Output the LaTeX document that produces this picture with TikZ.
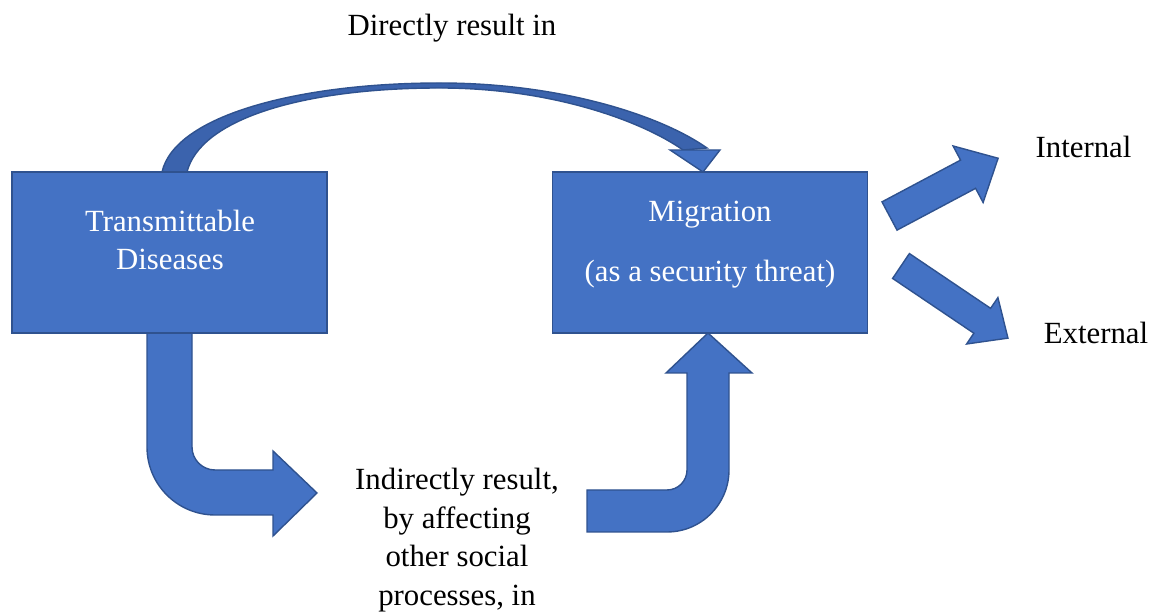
\documentclass[tikz,border=0pt]{standalone}
\usepackage{fontspec}
\setmainfont{Liberation Serif}

\definecolor{boxblue}{HTML}{4472C4}
\definecolor{edgeblue}{HTML}{2F528F}
\definecolor{backblue}{HTML}{3B63AD}

\begin{document}
\begin{tikzpicture}[x=0.5pt,y=0.5pt,
  box/.style={draw=edgeblue,fill=boxblue,line width=0.8pt,minimum width=157.5pt,minimum height=80.5pt,inner sep=0pt},
  boxtext/.style={text=white,align=center,font=\fontsize{15.4}{19}\selectfont},
  lbl/.style={align=center,font=\fontsize{15.4}{19.4}\selectfont},
  blockarrow/.style={draw=edgeblue,fill=boxblue,line width=0.7pt,line join=miter}]

\useasboundingbox (0,0) rectangle (1157,-613);

% Curved arrow on top: directly
\filldraw[blockarrow,fill=backblue] (162,-172) .. controls (175,-115) and (300,-83) .. (440,-83)
  .. controls (560,-83) and (660,-115) .. (707,-148)
  -- (683,-150)
  .. controls (640,-120) and (550,-88) .. (440,-88)
  .. controls (300,-88) and (200,-120) .. (187,-172) -- cycle;
\filldraw[blockarrow] (670,-150) -- (720,-150) -- (703,-172) -- cycle;

% Bent arrow going down and right
\filldraw[blockarrow] (147,-333) -- (192,-333) -- (192,-447)
  arc[start angle=180,end angle=270,radius=23] -- (273,-470) -- (273,-451)
  -- (317,-493) -- (273,-536) -- (273,-515) -- (215,-515)
  arc[start angle=270,end angle=180,radius=68] -- cycle;

% Bent arrow going right and up
\filldraw[blockarrow] (587,-490) -- (667,-490)
  arc[start angle=270,end angle=360,radius=20] -- (687,-373) -- (666,-373)
  -- (708,-333) -- (752,-373) -- (729,-373) -- (729,-470)
  arc[start angle=0,end angle=-90,radius=62] -- (587,-532) -- cycle;

% Straight arrows to Internal / External
\foreach \px/\py/\ang/\len/\hb/\sw/\hw in {889.5/-216/28/123/89/16/32, 901/-266/-34/129/98/15/28}{
  \filldraw[blockarrow,shift={(\px,\py)},rotate=\ang] (0,-\sw) -- (\hb,-\sw) -- (\hb,-\hw)
    -- (\len,0) -- (\hb,\hw) -- (\hb,\sw) -- (0,\sw) -- cycle;
}

% Boxes
\node[box] (trans) at (169.5,-252.5) {};
\node[box] (migr) at (710,-252.5) {};
\node[boxtext] (transtext) at (170,-239.5) {Transmittable\\Diseases};
\node[boxtext] (migrtext) at (710,-245) {Migration\\[11pt](as a security threat)};

% Labels
\node[lbl] (direct) at (452,-28) {Directly result in};
\node[lbl] (indirect) at (457,-540) {Indirectly result,\\by affecting\\other social\\processes, in};
\node[lbl] (internal) at (1083.5,-146.5) {Internal};
\node[lbl] (external) at (1096,-332.5) {External};

\end{tikzpicture}
\end{document}
